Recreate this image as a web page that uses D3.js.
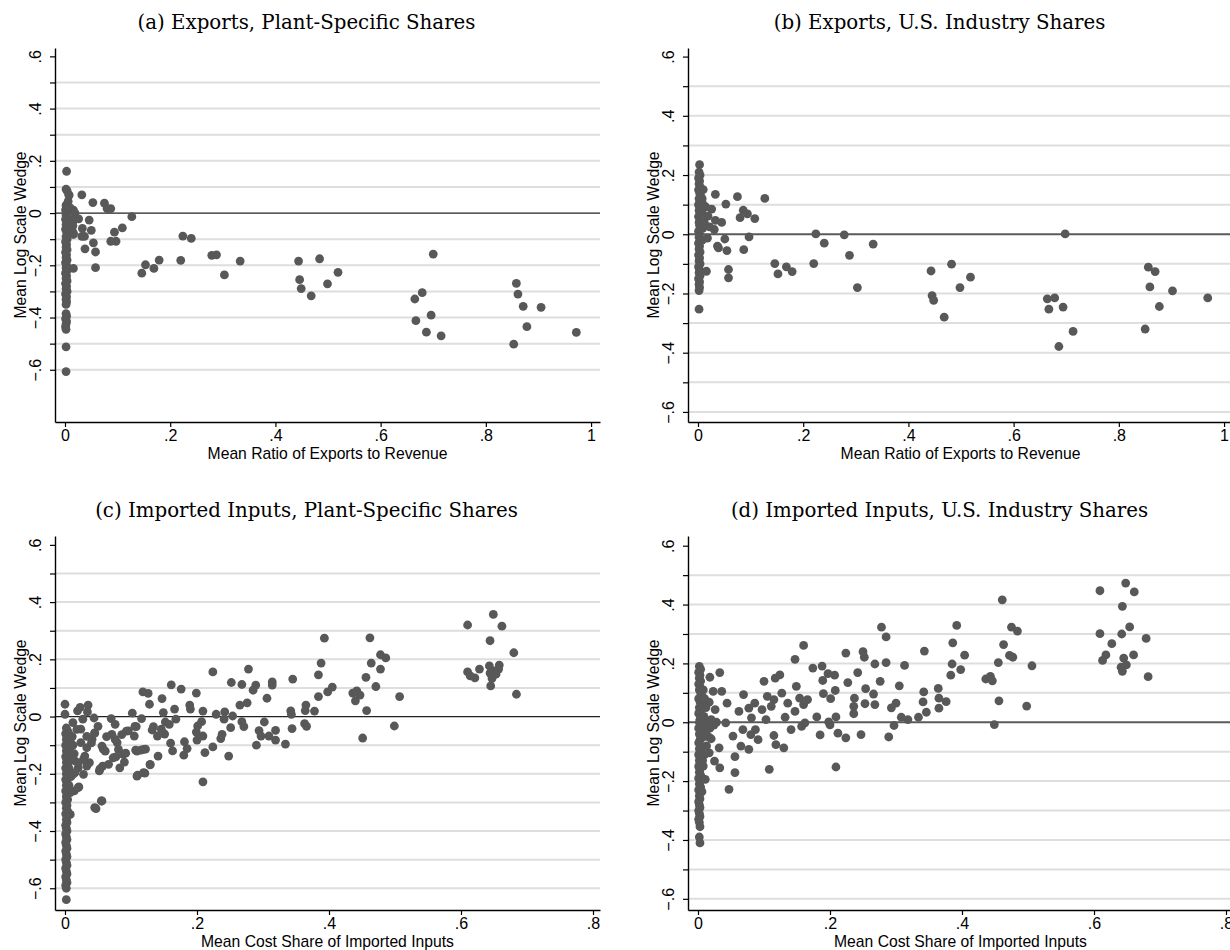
<!DOCTYPE html>
<html>
<head>
<meta charset="utf-8">
<script src="https://cdn.jsdelivr.net/npm/d3@7"></script>
<style>
body { margin: 0; background: #fff; }
</style>
</head>
<body>
<script>
// Tick values and labels shared by the four panels.
var yTicks = [-0.6, -0.5, -0.4, -0.3, -0.2, -0.1, 0, 0.1, 0.2, 0.3, 0.4, 0.5, 0.6];
var yLabelled = [-0.6, -0.4, -0.2, 0, 0.2, 0.4, 0.6];
var gridValues = [-0.6, -0.5, -0.4, -0.3, -0.2, -0.1, 0.1, 0.2, 0.3, 0.4, 0.5];
var xTicksExports = [0, 0.2, 0.4, 0.6, 0.8, 1];
var xTicksImports = [0, 0.2, 0.4, 0.6, 0.8];

var panelTitles = ["(a) Exports, Plant-Specific Shares", "(b) Exports, U.S. Industry Shares",
                   "(c) Imported Inputs, Plant-Specific Shares", "(d) Imported Inputs, U.S. Industry Shares"];
var xTitles = ["Mean Ratio of Exports to Revenue", "Mean Cost Share of Imported Inputs"];
var yTitle = "Mean Log Scale Wedge";

// (a) exports, plant-specific shares: [mean export ratio, mean log scale wedge]
var exportsPlant = [
    [0.003,0.16],[0.002,0.092],[0.004,0.085],[0.008,0.069],[0.006,0.045],[0.002,0.03],[0.005,0.022],[0.001,0.012],
    [0.004,0.004],[0.016,0.011],[0.010,0.02],[0.002,-0.006],[0.005,-0.015],[0.001,-0.024],[0.017,-0.027],[0.004,-0.034],
    [0.009,-0.04],[0.002,-0.044],[0.005,-0.053],[0.011,-0.059],[0.001,-0.062],[0.014,-0.07],[0.003,-0.072],[0.005,-0.081],
    [0.016,-0.082],[0.002,-0.09],[0.004,-0.1],[0.001,-0.11],[0.003,-0.12],[0.002,-0.13],[0.004,-0.14],[0.001,-0.15],
    [0.003,-0.16],[0.002,-0.17],[0.004,-0.18],[0.001,-0.19],[0.003,-0.2],[0.002,-0.21],[0.004,-0.22],[0.001,-0.23],
    [0.003,-0.24],[0.002,-0.25],[0.004,-0.26],[0.001,-0.27],[0.003,-0.28],[0.002,-0.29],[0.004,-0.3],[0.001,-0.31],
    [0.003,-0.32],[0.002,-0.33],[0.003,-0.34],[0.002,-0.35],[0.002,-0.385],[0.003,-0.395],[0.001,-0.405],[0.003,-0.415],
    [0.002,-0.425],[0.001,-0.435],[0.002,-0.445],[0.002,-0.512],[0.002,-0.607],
    [0.007,0.07],[0.032,0.07],[0.053,0.04],[0.075,0.038],[0.087,0.017],[0.08,0.017],[0.127,-0.014],[0.109,-0.057],
    [0.094,-0.073],[0.097,-0.108],[0.087,-0.108],[0.046,-0.027],[0.05,-0.066],[0.033,-0.059],[0.032,-0.089],[0.037,-0.089],
    [0.054,-0.114],[0.038,-0.137],[0.058,-0.149],[0.058,-0.209],[0.016,-0.212],[0.026,-0.022],[0.019,0.0],[0.015,-0.049],
    [0.007,-0.036],[0.016,-0.077],[0.02,-0.02],[0.146,-0.23],[0.153,-0.198],[0.169,-0.212],[0.179,-0.18],[0.22,-0.181],
    [0.224,-0.088],[0.24,-0.097],[0.279,-0.162],[0.288,-0.16],[0.303,-0.237],[0.333,-0.184],[0.444,-0.184],[0.446,-0.255],
    [0.449,-0.289],[0.468,-0.317],[0.484,-0.175],[0.499,-0.271],[0.519,-0.227],[0.665,-0.329],[0.679,-0.305],[0.667,-0.412],
    [0.696,-0.391],[0.7,-0.157],[0.687,-0.456],[0.715,-0.47],[0.858,-0.269],[0.861,-0.31],[0.871,-0.357],[0.905,-0.361],
    [0.878,-0.435],[0.853,-0.502],[0.972,-0.457]
];

// (b) exports, U.S. industry shares
var exportsIndustry = [
    [0.003,0.235],[0.002,0.21],[0.004,0.2],[0.001,0.19],[0.003,0.18],[0.002,0.17],[0.004,0.16],[0.001,0.15],
    [0.003,0.14],[0.005,0.13],[0.002,0.12],[0.004,0.11],[0.001,0.1],[0.006,0.095],[0.003,0.09],[0.002,0.08],
    [0.005,0.07],[0.001,0.06],[0.004,0.05],[0.002,0.04],[0.003,0.03],[0.005,0.02],[0.001,0.01],[0.003,0.0],
    [0.002,-0.01],[0.004,-0.02],[0.001,-0.03],[0.003,-0.04],[0.002,-0.05],[0.004,-0.06],[0.001,-0.07],[0.003,-0.08],
    [0.002,-0.09],[0.004,-0.1],[0.001,-0.11],[0.003,-0.12],[0.002,-0.13],[0.004,-0.14],[0.001,-0.15],[0.003,-0.16],
    [0.002,-0.17],[0.003,-0.18],[0.002,-0.19],[0.002,-0.253],[0.008,0.12],[0.01,0.1],[0.007,0.075],[0.012,0.04],
    [0.009,0.02],[0.008,-0.02],
    [0.01,0.151],[0.033,0.135],[0.053,0.102],[0.075,0.127],[0.127,0.121],[0.015,0.092],[0.026,0.085],[0.019,0.061],
    [0.033,0.047],[0.045,0.04],[0.031,0.016],[0.022,0.025],[0.018,-0.013],[0.051,-0.016],[0.037,-0.04],[0.039,-0.046],
    [0.055,-0.055],[0.087,-0.052],[0.097,-0.009],[0.08,0.056],[0.086,0.081],[0.094,0.069],[0.108,0.053],[0.016,-0.125],
    [0.058,-0.119],[0.058,-0.147],[0.146,-0.099],[0.152,-0.134],[0.168,-0.11],[0.179,-0.126],[0.22,-0.099],[0.224,0.001],
    [0.24,-0.03],[0.278,-0.002],[0.288,-0.071],[0.303,-0.18],[0.333,-0.033],[0.443,-0.124],[0.445,-0.207],[0.448,-0.223],
    [0.468,-0.28],[0.482,-0.101],[0.498,-0.18],[0.518,-0.145],[0.664,-0.218],[0.667,-0.253],[0.678,-0.215],[0.694,-0.246],
    [0.698,0.001],[0.686,-0.379],[0.713,-0.328],[0.856,-0.111],[0.869,-0.126],[0.859,-0.178],[0.85,-0.32],[0.902,-0.191],
    [0.877,-0.244],[0.969,-0.215]
];

// (c) imported inputs, plant-specific shares: [mean imported cost share, mean log scale wedge]
var importsPlant = [
    [0.0,0.043],[0.0,0.008],[0.002,-0.04],[0.004,-0.05],[0.001,-0.06],[0.003,-0.07],[0.002,-0.08],[0.004,-0.09],
    [0.001,-0.1],[0.003,-0.11],[0.002,-0.12],[0.004,-0.13],[0.001,-0.14],[0.003,-0.15],[0.002,-0.16],[0.004,-0.17],
    [0.001,-0.18],[0.003,-0.19],[0.002,-0.2],[0.004,-0.21],[0.001,-0.22],[0.003,-0.23],[0.002,-0.24],[0.004,-0.25],
    [0.001,-0.26],[0.003,-0.27],[0.002,-0.28],[0.004,-0.29],[0.001,-0.3],[0.003,-0.31],[0.002,-0.32],[0.004,-0.33],
    [0.001,-0.34],[0.003,-0.35],[0.002,-0.36],[0.003,-0.37],[0.001,-0.38],[0.002,-0.39],[0.003,-0.4],[0.001,-0.41],
    [0.002,-0.42],[0.003,-0.43],[0.001,-0.44],[0.002,-0.45],[0.003,-0.46],[0.001,-0.47],[0.002,-0.48],[0.003,-0.49],
    [0.001,-0.5],[0.002,-0.51],[0.003,-0.52],[0.001,-0.53],[0.002,-0.54],[0.003,-0.55],[0.001,-0.56],[0.002,-0.57],
    [0.003,-0.58],[0.001,-0.59],[0.002,-0.6],[0.002,-0.64],
    [0.006,-0.06],[0.008,-0.09],[0.007,-0.12],[0.01,-0.15],[0.006,-0.18],[0.009,-0.21],[0.012,-0.1],[0.011,-0.07],
    [0.014,-0.13],[0.013,-0.2],[0.006,-0.24],
    [0.61,0.32],[0.649,0.357],[0.662,0.316],[0.644,0.265],[0.68,0.223],[0.61,0.156],[0.614,0.142],[0.621,0.135],
    [0.628,0.166],[0.643,0.177],[0.658,0.18],[0.65,0.16],[0.644,0.152],[0.653,0.148],[0.647,0.133],[0.645,0.107],
    [0.684,0.078],[0.657,0.166],
    [0.393,0.274],[0.388,0.187],[0.384,0.146],[0.384,0.07],[0.398,0.086],[0.405,0.103],[0.378,0.019],[0.365,0.04],
    [0.364,0.021],[0.363,-0.025],[0.366,-0.034],[0.462,0.275],[0.464,0.187],[0.456,0.137],[0.478,0.216],[0.486,0.205],
    [0.478,0.166],[0.471,0.105],[0.436,0.082],[0.442,0.09],[0.447,0.075],[0.44,0.055],[0.457,0.021],[0.451,-0.075],
    [0.507,0.07],[0.499,-0.033],
    [0.345,0.131],[0.344,-0.042],[0.342,0.02],[0.343,0.008],[0.334,-0.096],[0.319,-0.048],[0.319,-0.082],[0.309,-0.068],
    [0.314,0.121],[0.314,0.11],[0.306,0.064],[0.302,-0.019],[0.294,-0.049],[0.297,-0.068],[0.29,-0.1],[0.289,0.11],
    [0.285,0.092],[0.278,0.166],[0.268,0.112],[0.276,0.048],[0.265,0.04],[0.268,-0.018],[0.271,-0.035],[0.252,0.119],
    [0.254,0.002],[0.251,-0.039],[0.248,-0.138],[0.242,0.016],[0.241,-0.009],[0.238,-0.062],[0.236,-0.077],[0.229,0.008],
    [0.224,-0.106],[0.224,0.156],[0.212,-0.126],[0.209,-0.228],[0.209,0.019],[0.207,-0.018],[0.209,-0.068],[0.199,0.082],
    [0.201,-0.033],[0.199,-0.054],[0.2,-0.082],[0.189,0.04],[0.19,0.026],[0.185,-0.112],[0.181,-0.088],[0.18,-0.135],
    [0.176,0.096],[0.166,0.026],[0.168,-0.009],[0.16,-0.093],[0.163,-0.12],[0.161,0.111],[0.152,-0.019],[0.158,-0.027],
    [0.149,0.014],[0.147,0.063],[0.151,-0.061],[0.146,-0.044],[0.141,-0.138],[0.14,-0.068],[0.134,-0.035],[0.132,-0.047],
    [0.128,0.043],[0.126,0.081],[0.118,0.086],[0.129,-0.169],[0.121,-0.198],[0.11,-0.205],[0.122,-0.114],[0.115,-0.117],
    [0.107,-0.117],[0.116,-0.007],[0.102,0.012],[0.108,-0.035],[0.105,-0.068],[0.096,-0.05],[0.092,-0.128],[0.09,-0.159],
    [0.083,-0.179],[0.079,-0.091],[0.076,-0.027],[0.07,-0.007],[0.071,-0.062],[0.077,-0.141],[0.063,-0.07],[0.058,-0.114],
    [0.057,-0.173],[0.052,-0.19],[0.055,-0.295],[0.047,-0.322],[0.044,-0.005],[0.045,-0.058],[0.041,-0.079],[0.035,0.04],
    [0.034,0.016],[0.027,-0.009],[0.024,-0.044],[0.033,-0.109],[0.03,-0.138],[0.019,0.02],[0.023,0.032],[0.02,-0.179],
    [0.021,-0.246],[0.014,-0.26],[0.008,-0.342],[0.024,-0.091],[0.015,-0.155],[0.028,-0.202],[0.037,-0.161],[0.009,-0.074],
    [0.012,-0.021],
    [0.018,-0.045],[0.033,-0.069],[0.05,-0.034],[0.045,-0.057],[0.04,-0.092],[0.056,-0.103],[0.061,-0.121],[0.076,-0.08],
    [0.086,-0.063],[0.093,-0.051],[0.106,-0.034],[0.081,-0.115],[0.088,-0.132],[0.073,-0.144],[0.066,-0.167],[0.053,-0.183],
    [0.033,-0.173],[0.028,-0.15],[0.02,-0.162],[0.015,-0.196],[0.02,-0.248],[0.008,-0.266],[0.005,-0.341],[0.109,-0.208],
    [0.119,-0.196],[0.129,-0.167],[0.109,-0.121],[0.119,-0.115],[0.045,-0.318],[0.056,-0.295]
];

// (d) imported inputs, U.S. industry shares
var importsIndustry = [
    [0.002,0.19],[0.004,0.18],[0.001,0.17],[0.003,0.16],[0.002,0.15],[0.004,0.14],[0.001,0.13],[0.003,0.12],
    [0.002,0.11],[0.004,0.1],[0.006,0.09],[0.001,0.08],[0.003,0.07],[0.005,0.06],[0.002,0.05],[0.004,0.04],
    [0.001,0.03],[0.006,0.02],[0.003,0.01],[0.002,0.0],[0.005,-0.01],[0.001,-0.02],[0.004,-0.03],[0.002,-0.04],
    [0.006,-0.05],[0.003,-0.06],[0.001,-0.07],[0.004,-0.08],[0.002,-0.09],[0.005,-0.1],[0.001,-0.11],[0.003,-0.12],
    [0.002,-0.13],[0.004,-0.14],[0.001,-0.15],[0.003,-0.16],[0.002,-0.17],[0.004,-0.18],[0.001,-0.19],[0.003,-0.2],
    [0.002,-0.21],[0.004,-0.22],[0.001,-0.23],[0.003,-0.24],[0.002,-0.25],[0.003,-0.26],[0.001,-0.27],[0.002,-0.28],
    [0.003,-0.29],[0.001,-0.3],[0.002,-0.31],[0.003,-0.32],[0.001,-0.33],[0.002,-0.34],[0.003,-0.355],[0.002,-0.39],
    [0.003,-0.41],
    [0.008,0.11],[0.01,0.08],[0.012,0.05],[0.009,0.02],[0.014,0.0],[0.011,-0.02],[0.008,-0.05],[0.013,-0.08],
    [0.01,-0.11],[0.007,-0.13],[0.016,-0.05],[0.02,0.0],[0.018,-0.02],[0.024,-0.01],[0.028,0.0],
    [0.609,0.447],[0.648,0.473],[0.661,0.443],[0.643,0.394],[0.609,0.301],[0.642,0.3],[0.654,0.324],[0.679,0.285],
    [0.627,0.267],[0.618,0.229],[0.613,0.21],[0.645,0.218],[0.66,0.229],[0.649,0.195],[0.641,0.187],[0.643,0.173],
    [0.682,0.155],
    [0.461,0.416],[0.392,0.329],[0.475,0.323],[0.484,0.31],[0.386,0.27],[0.463,0.264],[0.404,0.228],[0.472,0.227],
    [0.477,0.221],[0.385,0.198],[0.455,0.203],[0.506,0.192],[0.398,0.179],[0.383,0.16],[0.436,0.147],[0.443,0.156],
    [0.446,0.141],[0.456,0.073],[0.498,0.055],[0.449,-0.008],[0.364,0.115],[0.342,0.103],[0.341,0.069],[0.365,0.082],
    [0.376,0.07],[0.365,0.048],[0.346,0.034],[0.334,0.017],[0.318,0.009],
    [0.278,0.323],[0.285,0.29],[0.343,0.242],[0.224,0.235],[0.25,0.24],[0.252,0.221],[0.268,0.198],[0.285,0.203],
    [0.313,0.193],[0.242,0.169],[0.227,0.135],[0.276,0.139],[0.305,0.124],[0.254,0.114],[0.237,0.082],[0.266,0.096],
    [0.268,0.06],[0.253,0.063],[0.236,0.054],[0.236,0.029],[0.3,0.065],[0.293,0.049],[0.308,0.017],[0.297,-0.011],
    [0.289,-0.05],[0.247,-0.042],[0.224,-0.053],[0.212,-0.037],[0.209,-0.152],[0.209,0.018],[0.2,-0.009],[0.198,0.001],
    [0.208,0.108],[0.207,0.16],[0.197,0.165],[0.188,0.191],[0.201,0.08],[0.19,0.097],[0.189,0.142],[0.185,-0.043],
    [0.18,0.018],[0.174,0.184],[0.16,0.261],[0.147,0.214],[0.149,0.122],[0.166,0.077],[0.16,0.06],[0.162,-0.002],
    [0.157,-0.014],[0.154,0.082],[0.147,0.037],[0.141,-0.025],[0.136,0.065],[0.132,0.017],[0.127,0.099],[0.124,0.161],
    [0.117,0.15],[0.115,0.077],[0.118,-0.076],[0.13,-0.087],[0.115,-0.045],[0.108,-0.16],[0.1,0.139],[0.105,0.088],
    [0.111,0.054],[0.103,0.009],[0.097,0.043],[0.086,0.065],[0.077,0.048],[0.081,0.015],[0.087,-0.025],[0.08,-0.042],
    [0.091,-0.059],[0.077,-0.092],[0.069,0.094],[0.062,0.037],[0.068,-0.025],[0.065,-0.081],[0.056,-0.117],[0.056,-0.171],
    [0.047,-0.228],[0.053,-0.047],[0.042,-0.002],[0.044,0.065],[0.033,0.169],[0.036,0.105],[0.023,0.105],[0.018,0.153],
    [0.017,0.068],[0.026,0.043],[0.02,0.009],[0.012,-0.036],[0.02,-0.056],[0.032,-0.087],[0.017,-0.104],[0.033,-0.155],
    [0.025,-0.132],[0.006,-0.236],[0.008,-0.149],[0.011,-0.194]
];

// Setup the drawing surface.
var svg = d3.select("body").append("svg")
            .attr("width", 1230)
            .attr("height", 950)
            .style("font-family", "'Liberation Sans', Arial, sans-serif");

function fmtTick (d) {
    if (Math.abs(d) < 1e-9) return "0";
    if (Math.abs(d - 1) < 1e-9) return "1";
    return (d < 0 ? "\u2212" : "") + Math.abs(d).toFixed(1).replace(/^0/, "");
}

// Draw one scatter panel.
function drawPanel (p) {
    var g = svg.append("g")
               .attr("transform", "translate(" + p.left + "," + p.top + ")");

    var xScale = d3.scaleLinear().domain(p.xDomain).range([0, p.width]);
    var yScale = d3.scaleLinear().domain(p.yDomain).range([p.height, 0]);

    // light horizontal gridlines
    g.selectAll(".grid")
     .data(gridValues)
     .enter().append("line")
     .attr("class", "grid")
     .attr("x1", 0).attr("x2", p.width)
     .attr("y1", d => yScale(d)).attr("y2", d => yScale(d))
     .attr("stroke", "#dedede")
     .attr("stroke-width", 2);

    // zero line
    g.append("line")
     .attr("x1", 0).attr("x2", p.width)
     .attr("y1", yScale(0)).attr("y2", yScale(0))
     .attr("stroke", p.zeroColor)
     .attr("stroke-width", p.zeroWidth);

    // points
    g.selectAll(".dot")
     .data(p.points)
     .enter().append("circle")
     .attr("class", "dot")
     .attr("cx", d => xScale(d[0]))
     .attr("cy", d => yScale(d[1]))
     .attr("r", 4.4)
     .attr("fill", "#585858");

    // y axis: ticks every .1, labels every .2, rotated
    var yAx = g.append("g")
               .call(d3.axisLeft(yScale)
                       .tickValues(yTicks)
                       .tickSize(5)
                       .tickSizeOuter(0)
                       .tickFormat(d => yLabelled.some(v => Math.abs(v - d) < 1e-9) ? fmtTick(d) : ""));
    yAx.select(".domain").attr("stroke", "#000").attr("stroke-width", 1.4);
    yAx.selectAll(".tick line").attr("stroke", "#000").attr("stroke-width", 1.2);
    yAx.selectAll(".tick text")
       .attr("x", 0).attr("dy", 0)
       .attr("transform", "translate(-14,0) rotate(-90)")
       .attr("text-anchor", "middle")
       .attr("fill", "#000")
       .style("font-size", "16px");

    // x axis
    var xAx = g.append("g")
               .attr("transform", "translate(0," + p.height + ")")
               .call(d3.axisBottom(xScale)
                       .tickValues(p.xTicks)
                       .tickSize(5)
                       .tickSizeOuter(0)
                       .tickFormat(fmtTick));
    xAx.select(".domain").attr("stroke", "#000").attr("stroke-width", 1.4);
    xAx.selectAll(".tick line").attr("stroke", "#000").attr("stroke-width", 1.2);
    xAx.selectAll(".tick text")
       .attr("y", 8)
       .attr("fill", "#000")
       .style("font-size", "16px");

    // axis titles
    g.append("text")
     .attr("transform", "translate(-29," + (p.height / 2) + ") rotate(-90)")
     .attr("text-anchor", "middle")
     .style("font-size", "15.7px")
     .text(yTitle);

    g.append("text")
     .attr("x", p.width / 2)
     .attr("y", p.height + 37)
     .attr("text-anchor", "middle")
     .style("font-size", "15.7px")
     .text(p.xTitle);

    // panel title
    g.append("text")
     .attr("x", 251.5)
     .attr("y", -19)
     .attr("text-anchor", "middle")
     .style("font-family", "'DejaVu Serif', serif")
     .style("font-size", "19.8px")
     .text(p.title);
}

drawPanel({ left: 55, top: 48, width: 545, height: 374, xDomain: [-0.019, 1.017], yDomain: [-0.80, 0.632],
            xTicks: xTicksExports, points: exportsPlant, title: panelTitles[0], xTitle: xTitles[0],
            zeroColor: "#222", zeroWidth: 1.3 });
drawPanel({ left: 688, top: 48, width: 545, height: 374, xDomain: [-0.019, 1.017], yDomain: [-0.634, 0.629],
            xTicks: xTicksExports, points: exportsIndustry, title: panelTitles[1], xTitle: xTitles[0],
            zeroColor: "#5a5a5a", zeroWidth: 2 });
drawPanel({ left: 55, top: 536, width: 545, height: 374, xDomain: [-0.01515, 0.8106], yDomain: [-0.676, 0.631],
            xTicks: xTicksImports, points: importsPlant, title: panelTitles[2], xTitle: xTitles[1],
            zeroColor: "#222", zeroWidth: 1.3 });
drawPanel({ left: 688, top: 536, width: 545, height: 374, xDomain: [-0.01515, 0.8106], yDomain: [-0.638, 0.633],
            xTicks: xTicksImports, points: importsIndustry, title: panelTitles[3], xTitle: xTitles[1],
            zeroColor: "#5a5a5a", zeroWidth: 2 });
</script>
</body>
</html>
